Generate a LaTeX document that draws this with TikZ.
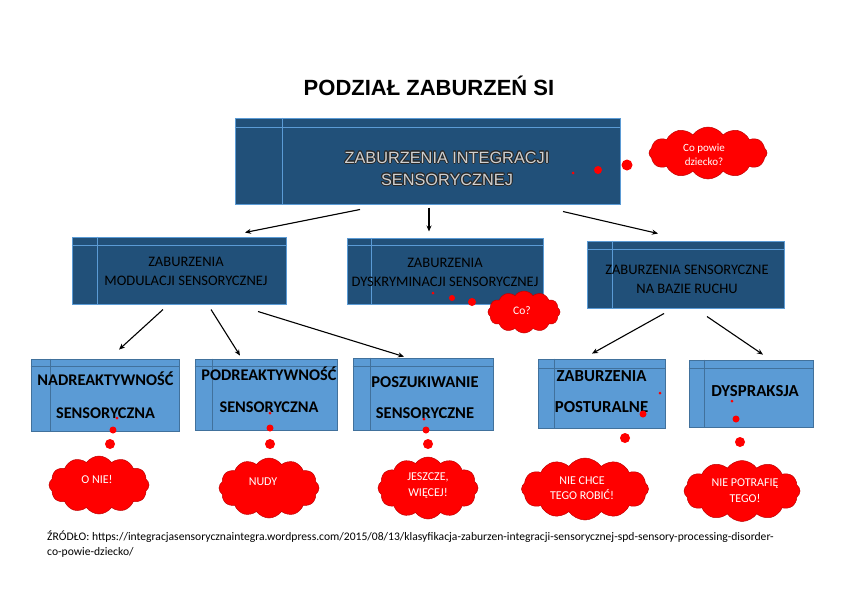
\documentclass[tikz,border=0pt]{standalone}
\usepackage{fontspec}
\setmainfont{Carlito}
\newfontfamily\arialf{Liberation Sans}
\usepackage[copies]{contour}
\usetikzlibrary{shapes.symbols,calc,arrows.meta}
\definecolor{darkbox}{HTML}{215079}
\definecolor{darkline}{HTML}{5B9BD5}
\definecolor{lightbox}{HTML}{5B9BD5}
\definecolor{lightline}{HTML}{41719C}
\definecolor{cloudred}{HTML}{FF0000}
\definecolor{cloudedge}{HTML}{C00000}
\definecolor{outlinegray}{HTML}{2A2A2A}
\definecolor{ltext}{HTML}{D0D0D0}
\contourlength{0.8pt}
\tikzset{
  darkrect/.style={draw=darkline,fill=darkbox,line width=1pt,inner sep=0pt},
  lightrect/.style={draw=lightline,fill=lightbox,line width=0.8pt,inner sep=0pt},
  dinner/.style={draw=darkline,line width=0.8pt},
  linner/.style={draw=lightline,line width=0.8pt},
  midtxt/.style={font=\fontsize{14.5}{19}\selectfont,align=center,text=black,inner sep=0pt},
  boldtxt/.style={font=\fontsize{16.3}{32}\selectfont\bfseries,align=center,text=black,inner sep=0pt},
  thought/.style={shape=cloud,cloud puffs=12,cloud puff arc=110,cloud ignores aspect,
     fill=cloudred,draw=cloudedge,line width=0.5pt,inner sep=0pt,text=white,align=center,
     font=\fontsize{12}{15.5}\selectfont},
  arr/.style={-{Stealth[length=6pt,width=5pt]},line width=1.1pt,black},
}
\newcommand{\boxlines}[4]{% node, style, hoffset, voffset
  \draw[#2] ([yshift=-#3pt]#1.north west) -- ([yshift=-#3pt]#1.north east);
  \draw[#2] ([xshift=#4pt]#1.north west) -- ([xshift=#4pt]#1.south west);}
\begin{document}
\begin{tikzpicture}[x=1pt,y=-1pt]
\useasboundingbox (0,0) rectangle (857,606);
\fill[white] (0,0) rectangle (857,606);

% title
\node[font=\arialf\bfseries\fontsize{22}{26}\selectfont,inner sep=0pt] (title) at (429,86) {PODZIAŁ ZABURZEŃ SI};

% top box
\node[darkrect,minimum width=385pt,minimum height=86pt] (T) at (427.5,161) {};
\boxlines{T}{dinner}{10}{48}
\node[font=\arialf\fontsize{16.3}{22}\selectfont,align=center,text=ltext,inner sep=0pt] (tT) at (447,169)
  {\contour{outlinegray}{ZABURZENIA INTEGRACJI}\\\contour{outlinegray}{SENSORYCZNEJ}};
\fill[red] (573,173) circle (1.5);
\fill[red] (598,170) circle (4);
\fill[red] (627,165) circle (5.5);
\node[thought,minimum width=118pt,minimum height=52pt] (c0) at (708,153) {};
\node[text=white,align=center,inner sep=0pt,font=\fontsize{11}{14}\selectfont] (tc0) at (704,155) {Co powie\\dziecko?};

% second row
\node[darkrect,minimum width=214pt,minimum height=67pt] (A) at (179,270.5) {};
\boxlines{A}{dinner}{9}{26}
\node[midtxt] (tA) at (186,271.5) {ZABURZENIA\\MODULACJI SENSORYCZNEJ};

\node[darkrect,minimum width=196pt,minimum height=66pt] (B) at (445,271) {};
\boxlines{B}{dinner}{8}{25}
\node[midtxt] (tB) at (445,272) {ZABURZENIA\\DYSKRYMINACJI SENSORYCZNEJ};

\node[darkrect,minimum width=197pt,minimum height=67pt] (C) at (685.5,274.5) {};
\boxlines{C}{dinner}{9}{26}
\node[midtxt] (tC) at (687,279) {ZABURZENIA SENSORYCZNE\\NA BAZIE RUCHU};

\fill[red] (433,293) circle (1.5);
\fill[red] (452,298) circle (3);
\fill[red] (472,302) circle (4);
\node[thought,minimum width=72pt,minimum height=42pt] (cB) at (524,312) {};
\node[text=white,inner sep=0pt,font=\fontsize{11.5}{14}\selectfont] (tcB) at (522,311) {Co?};

% arrows top
\draw[arr] ($(T.south)+(-67.5,5)$) -- ($(A.north)+(66,-4)$);
\draw[arr] ($(T.south)+(1.5,3)$) -- ($(B.north)+(-16,-6)$);
\draw[arr] ($(T.south)+(135.5,7)$) -- ($(C.north)+(-27.5,-7)$);

% third row
\node[lightrect,minimum width=148pt,minimum height=72pt] (D) at (105,395) {};
\boxlines{D}{linner}{8}{20}
\node[boldtxt,font=\fontsize{16.3}{33}\selectfont\bfseries] (tD) at (105.5,395.5) {NADREAKTYWNOŚĆ\\SENSORYCZNA};

\node[lightrect,minimum width=142pt,minimum height=71pt] (E) at (266,394.5) {};
\boxlines{E}{linner}{8}{18}
\node[boldtxt] (tE) at (269,390) {PODREAKTYWNOŚĆ\\SENSORYCZNA};

\node[lightrect,minimum width=140pt,minimum height=72pt] (F) at (423,394) {};
\boxlines{F}{linner}{9}{18}
\node[boldtxt,font=\fontsize{16.5}{31}\selectfont\bfseries] (tF) at (425,397.5) {POSZUKIWANIE\\SENSORYCZNE};

\node[lightrect,minimum width=127pt,minimum height=69pt] (G) at (601.5,393.5) {};
\boxlines{G}{linner}{10}{17}
\node[boldtxt,font=\fontsize{16.8}{31}\selectfont\bfseries] (tG) at (601.5,391.5) {ZABURZENIA\\POSTURALNE};

\node[lightrect,minimum width=124pt,minimum height=67pt] (H) at (751,393.5) {};
\boxlines{H}{linner}{9}{16}
\node[boldtxt,font=\fontsize{16.8}{31}\selectfont\bfseries] (tH) at (755,391) {DYSPRAKSJA};

% arrows second row
\draw[arr] ($(A.south)+(-16,5)$) -- ($(D.north)+(14,-9)$);
\draw[arr] ($(A.south)+(32,5)$) -- ($(E.north)+(-26,-3)$);
\draw[arr] ($(A.south)+(79,7)$) -- ($(F.north)+(-19,-1)$);
\draw[arr] ($(C.south)+(-21.5,5)$) -- ($(G.north)+(-9.5,-5)$);
\draw[arr] ($(C.south)+(21.5,8)$) -- ($(H.north)+(12,-5)$);

% dots third row
\fill[red] (117,418) circle (1.5); \fill[red] (113,430) circle (3.5); \fill[red] (110,444) circle (5);
\fill[red] (270,413) circle (1.5); \fill[red] (270,428) circle (3.5); \fill[red] (270,444) circle (5);
\fill[red] (424,419) circle (1.5); \fill[red] (426,430) circle (3.5); \fill[red] (428,444) circle (5);
\fill[red] (660,393) circle (1.5); \fill[red] (643,414) circle (3.5); \fill[red] (625,438) circle (5);
\fill[red] (732,401) circle (1.5); \fill[red] (736,419) circle (3.5); \fill[red] (740,442) circle (5);

% clouds third row
\node[thought,minimum width=100pt,minimum height=58pt] (cD) at (99,485) {};
\node[text=white,inner sep=0pt,font=\fontsize{12}{15.5}\selectfont] (tcD) at (97,479) {O NIE!};
\node[thought,minimum width=100pt,minimum height=60pt] (cE) at (269,488) {};
\node[text=white,inner sep=0pt,font=\fontsize{12}{15.5}\selectfont] (tcE) at (263,482) {NUDY};
\node[thought,minimum width=100pt,minimum height=62pt] (cF) at (428,488) {};
\node[text=white,inner sep=0pt,align=center,font=\fontsize{12}{16}\selectfont] (tcF) at (428,486) {JESZCZE,\\WIĘCEJ!};
\node[thought,minimum width=127pt,minimum height=62pt] (cG) at (585,489) {};
\node[text=white,inner sep=0pt,align=center,font=\fontsize{12}{15.5}\selectfont] (tcG) at (582,488) {NIE CHCE\\TEGO ROBIĆ!};
\node[thought,minimum width=116pt,minimum height=61pt] (cH) at (742,491) {};
\node[text=white,inner sep=0pt,align=center,font=\fontsize{12}{16}\selectfont] (tcH) at (745,491) {NIE POTRAFIĘ\\TEGO!};

% footer
\node[anchor=west,align=left,inner sep=0pt,font=\fontsize{11.6}{15}\selectfont] (src) at (47,544)
 {ŹRÓDŁO: https://integracjasensorycznaintegra.wordpress.com/2015/08/13/klasyfikacja-zaburzen-integracji-sensorycznej-spd-sensory-processing-disorder-\\co-powie-dziecko/};
\end{tikzpicture}
\end{document}
